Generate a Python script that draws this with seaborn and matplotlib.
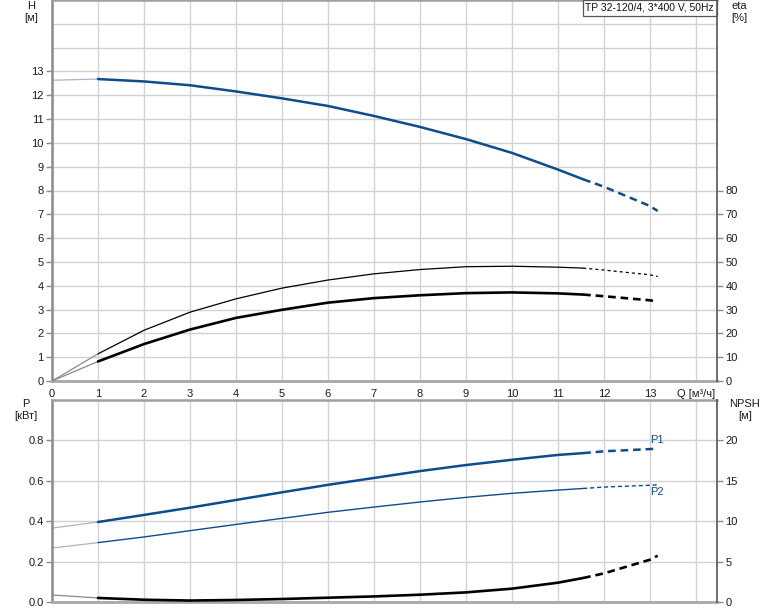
import matplotlib
matplotlib.use('Agg')
import matplotlib.pyplot as plt
import seaborn as sns

sns.set_style('white')
plt.rcParams['font.family'] = ['Liberation Sans', 'DejaVu Sans']
plt.rcParams['lines.scale_dashes'] = False

# flow points [m3/h]; index 1 = start of normal range, 12 = start of dashed part
q = [0, 1, 2, 3, 4, 5, 6, 7, 8, 9, 10, 11, 11.55, 12, 13, 13.17]
head = [12.63, 12.68, 12.58, 12.42, 12.16, 11.87, 11.55, 11.13, 10.67, 10.16, 9.58, 8.88, 8.47, 8.16, 7.35, 7.14]
eta_pump = [0, 11.4, 21.3, 28.9, 34.5, 39.0, 42.4, 45.0, 46.8, 48.0, 48.2, 47.8, 47.4, 46.6, 44.6, 43.9]
eta_total = [0, 8.2, 15.5, 21.6, 26.5, 29.9, 32.9, 34.8, 36.0, 36.9, 37.2, 36.8, 36.3, 35.6, 33.9, 33.4]
p1 = [0.366, 0.396, 0.431, 0.467, 0.505, 0.543, 0.58, 0.614, 0.648, 0.678, 0.704, 0.728, 0.737, 0.746, 0.757, 0.76]
p2 = [0.267, 0.294, 0.322, 0.353, 0.384, 0.414, 0.444, 0.47, 0.495, 0.518, 0.538, 0.554, 0.562, 0.569, 0.578, 0.58]
npsh = [0.87, 0.5, 0.28, 0.18, 0.25, 0.37, 0.53, 0.69, 0.9, 1.19, 1.65, 2.39, 2.97, 3.54, 5.23, 5.73]

title = 'TP 32-120/4, 3*400 V, 50Hz'
x_ticks = list(range(15))
x_labels = [str(i) for i in range(14)] + ['Q [м³/ч]']

BLUE = '#0f4c8c'
FAINT_BLUE = '#aab6c8'
FAINT_BLACK = '#8a8a8a'
GRID = '#d2d2d2'
FS = 8
W, H = 774, 611


def curve(ax, y, color, faint, lw, dash):
    sns.lineplot(x=q[:2], y=y[:2], ax=ax, color=faint, lw=0.9)
    sns.lineplot(x=q[1:13], y=y[1:13], ax=ax, color=color, lw=lw)
    sns.lineplot(x=q[12:], y=y[12:], ax=ax, color=color, lw=lw, linestyle=(0, dash))


def style_axes(ax, twin):
    for a in (ax, twin):
        a.set_xlim(0, 14.46)
        a.tick_params(direction='out', length=4, width=1, colors='#8c8c8c',
                      labelcolor='#1a1a1a', labelsize=FS, pad=2)
        a.set_xlabel('')
        a.set_ylabel('')
    ax.spines['left'].set_color('#8c8c8c')
    ax.spines['left'].set_linewidth(1.8)
    ax.spines['bottom'].set_color('#a8a8a8')
    ax.spines['bottom'].set_linewidth(2)
    ax.spines['top'].set_color('#a0a0a0')
    ax.spines['top'].set_linewidth(1.8)
    ax.spines['right'].set_visible(False)
    for s in ('left', 'top', 'bottom'):
        twin.spines[s].set_visible(False)
    twin.spines['right'].set_color('#555555')
    twin.spines['right'].set_linewidth(1.2)
    ax.set_xticks(x_ticks)
    ax.grid(True, color=GRID, lw=1.0)
    ax.set_axisbelow(True)


fig = plt.figure(figsize=(W / 100, H / 100), dpi=100)

# upper chart: head and efficiency
ax_h = fig.add_axes([52 / W, 1 - 381 / H, 665 / W, 381 / H])
ax_eta = ax_h.twinx()
curve(ax_h, head, BLUE, FAINT_BLUE, 1.8, (5.5, 3.5))
curve(ax_eta, eta_pump, 'black', FAINT_BLACK, 0.9, (2.2, 2.2))
curve(ax_eta, eta_total, 'black', FAINT_BLACK, 1.9, (5.5, 3.5))
style_axes(ax_h, ax_eta)
ax_h.set_ylim(0, 16)
ax_eta.set_ylim(0, 160)
ax_h.set_yticks(range(17))
ax_h.set_yticklabels([str(i) if i <= 13 else '' for i in range(17)])
ax_eta.set_yticks(range(0, 90, 10))
ax_h.set_xticklabels(x_labels)
for t in ax_h.get_yticklines()[2 * 14:]:
    t.set_visible(False)
ax_h.text(1 - 3 / 665, 1 - 3 / 381, title, transform=ax_h.transAxes, ha='right', va='top',
          fontsize=7.5, color='#111111', zorder=10,
          bbox=dict(boxstyle='square,pad=0.25', fc='white', ec='#555555', lw=0.9))

# lower chart: power and NPSH
ax_p = fig.add_axes([52 / W, 1 - 602 / H, 665 / W, 202 / H])
ax_n = ax_p.twinx()
curve(ax_p, p1, BLUE, FAINT_BLUE, 1.8, (5.5, 3.5))
curve(ax_p, p2, BLUE, FAINT_BLUE, 1.0, (3, 2))
curve(ax_n, npsh, 'black', FAINT_BLACK, 1.9, (5.5, 3.5))
style_axes(ax_p, ax_n)
ax_p.set_ylim(0, 1.0)
ax_n.set_ylim(0, 25)
ax_p.set_yticks([0, 0.2, 0.4, 0.6, 0.8, 1.0])
ax_p.set_yticklabels(['0.0', '0.2', '0.4', '0.6', '0.8', ''])
ax_p.get_yticklines()[-2].set_visible(False)
ax_n.set_yticks([0, 5, 10, 15, 20])
ax_p.tick_params(axis='x', length=0, labelbottom=False)
ax_n.tick_params(axis='x', length=0, labelbottom=False)
ax_p.text(q[-1] - 0.17, p1[-1] + 0.016, 'P1', color=BLUE, fontsize=FS, ha='left', va='bottom')
ax_p.text(q[-1] - 0.17, p2[-1] - 0.012, 'P2', color=BLUE, fontsize=FS, ha='left', va='top')

# axis captions
lab = dict(ha='center', va='top', fontsize=FS, color='#1a1a1a', linespacing=1.3)
fig.text(31 / W, 1 - 1 / H, 'H\n[м]', **lab)
fig.text(739 / W, 1 - 1 / H, 'eta\n[%]', **lab)
fig.text(26 / W, 1 - 399 / H, 'P\n[кВт]', **lab)
fig.text(745 / W, 1 - 399 / H, 'NPSH\n[м]', **lab)

fig.savefig('out.png', dpi=100)
